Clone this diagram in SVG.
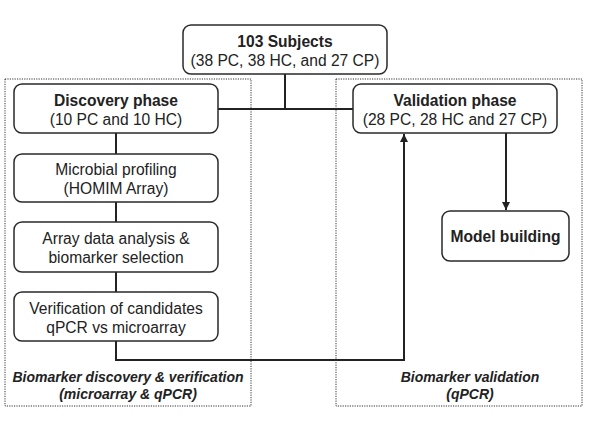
<svg xmlns="http://www.w3.org/2000/svg" width="600" height="428" viewBox="0 0 600 428">
<style>
.box{fill:#fff;stroke:#2a2a2a;stroke-width:1.5}
.grp{fill:none;stroke:#333;stroke-width:1;stroke-dasharray:1.2 1.2}
.t{font-family:"Liberation Sans",Arial,sans-serif;font-size:15.6px;fill:#222;text-anchor:middle}
.b{font-weight:bold}
.cap{font-family:"Liberation Sans",Arial,sans-serif;font-size:14px;font-weight:bold;font-style:italic;fill:#222;text-anchor:middle}
.ln{fill:none;stroke:#222;stroke-width:2}
</style>
<defs>
<marker id="ah" viewBox="0 0 10 10" refX="10" refY="5" markerWidth="4.5" markerHeight="4" orient="auto" markerUnits="strokeWidth">
<path d="M0,0 L10,5 L0,10 z" fill="#222"/>
</marker>
</defs>
<rect width="600" height="428" fill="#fff"/>
<g id="group-discovery">
<rect class="grp" x="5" y="79" width="246" height="327"/>
<text class="cap" x="128" y="382">Biomarker discovery &amp; verification</text>
<text class="cap" x="128" y="399">(microarray &amp; qPCR)</text>
</g>
<g id="group-validation">
<rect class="grp" x="336" y="79" width="246" height="327"/>
<text class="cap" x="470" y="382">Biomarker validation</text>
<text class="cap" x="470" y="399">(qPCR)</text>
</g>
<g id="connectors">
<path class="ln" d="M285,74 V109"/>
<path class="ln" d="M218,109 H353"/>
<path class="ln" d="M116,133 V154"/>
<path class="ln" d="M116,202 V222"/>
<path class="ln" d="M116,272 V292"/>
<path class="ln" d="M116,341 V360 H404 V134" marker-end="url(#ah)"/>
<path class="ln" d="M506,133 V210" marker-end="url(#ah)"/>
</g>
<g id="subjects">
<rect class="box" x="183" y="25" width="204" height="49" rx="8"/>
<text class="t b" x="285" y="47">103 Subjects</text>
<text class="t" x="285" y="66">(38 PC, 38 HC, and 27 CP)</text>
</g>
<g id="discovery">
<rect class="box" x="14" y="84" width="204" height="49" rx="8"/>
<text class="t b" x="116" y="106">Discovery phase</text>
<text class="t" x="116" y="125">(10 PC and 10 HC)</text>
</g>
<g id="profiling">
<rect class="box" x="14" y="154" width="204" height="48" rx="8"/>
<text class="t" x="116" y="175">Microbial profiling</text>
<text class="t" x="116" y="194">(HOMIM Array)</text>
</g>
<g id="analysis">
<rect class="box" x="14" y="222" width="204" height="50" rx="8"/>
<text class="t" x="116" y="244">Array data analysis &amp;</text>
<text class="t" x="116" y="263">biomarker selection</text>
</g>
<g id="verification">
<rect class="box" x="14" y="292" width="204" height="49" rx="8"/>
<text class="t" x="116" y="314">Verification of candidates</text>
<text class="t" x="116" y="333">qPCR vs microarray</text>
</g>
<g id="validation">
<rect class="box" x="353" y="84" width="204" height="49" rx="8"/>
<text class="t b" x="455" y="106">Validation phase</text>
<text class="t" x="455" y="125">(28 PC, 28 HC and 27 CP)</text>
</g>
<g id="model">
<rect class="box" x="442" y="211" width="127" height="50" rx="8"/>
<text class="t b" x="505.5" y="242">Model building</text>
</g>
</svg>
